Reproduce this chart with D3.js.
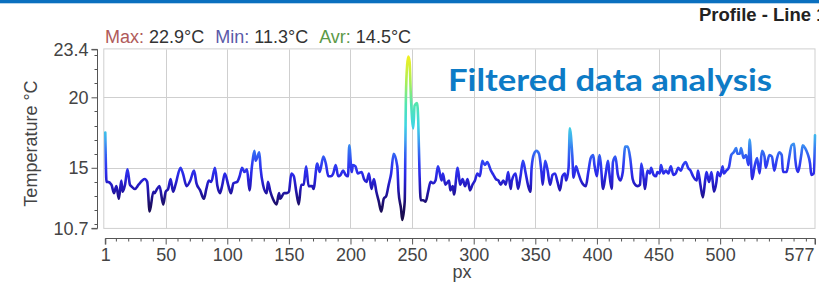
<!DOCTYPE html>
<html><head><meta charset="utf-8">
<script src="https://cdn.jsdelivr.net/npm/d3@7/dist/d3.min.js"></script>
<style>
body{margin:0;background:#fff;}
svg{display:block;font-family:"Liberation Sans",Arial,sans-serif;}
</style>
</head><body>
<svg id="chart" width="819" height="288"></svg>
<script>
// ---- data ----
const pxIndex = [1,2,3,6,8,10,12,14,15,17,19,21,22,25,28,31,33,35,37,40,41,43,45,48,50,52,54,56,58,62,64,67,70,73,75,78,81,83,85,87,90,92,94,96,98,101,103,105,108,110,112,114,116,118,120,122,123,126,127,129,132,133,135,137,140,142,143,146,148,150,152,154,156,158,160,162,164,166,169,170,173,175,178,180,182,184,186,188,190,
192,194,196,198,199,201,202,204,206,209,211,213,215,217,219,221,223,225,227,229,231,233,235,238,239,241,242,244,245,246,247,248,249,251,252,254,255,256,257,259,261,263,265,267,269,271,274,275,277,280,281,283,284,287,289,291,293,295,297,299,301,303,305,307,309,311,314,316,318,320,322,324,326,328,330,331,334,336,338,340,342,344,346,347,349,351,353,355,356,358,360,362,364,366,368,370,372,374,375,377,378,380,381,
383,385,387,389,391,393,395,397,398,400,402,403,405,407,409,410,412,413,415,417,419,421,423,425,427,429,431,433,435,436,438,439,441,443,444,446,448,449,451,452,454,456,458,460,462,464,466,468,470,472,474,476,478,481,482,484,486,488,489,491,493,495,497,498,500,502,503,505,507,509,511,513,514,516,517,519,521,523,524,526,528,530,532,534,536,537,540,542,544,546,548,550,551,554,556,558,560,561,563,566,567,569,571,573,574,576,577];
const temperature = [17.5,14.0,14.0,13.8,13.2,13.7,12.8,14.1,13.3,13.8,14.9,13.8,13.7,13.5,13.8,14.1,14.2,14.0,11.9,13.3,13.2,13.5,13.7,12.4,13.3,13.5,14.2,13.3,13.8,15.0,14.6,13.7,14.1,14.8,13.9,13.4,12.8,13.5,14.1,14.0,15.0,13.7,13.2,13.8,14.6,13.7,13.2,13.9,14.0,14.4,15.0,14.7,14.9,13.4,15.1,16.2,15.5,16.1,15.0,13.8,13.2,14.0,13.3,12.8,12.4,13.2,12.8,13.2,13.2,13.3,14.6,14.4,13.3,12.4,13.8,13.8,15.1,13.7,13.7,13.5,15.3,14.7,15.8,15.3,14.4,14.4,14.6,15.2,14.4,
14.5,14.8,14.5,14.4,16.6,14.7,15.2,15.1,14.6,14.7,14.2,14.0,14.6,13.5,14.2,13.3,12.6,11.9,12.8,13.0,13.8,14.6,16.0,15.1,13.3,12.1,11.3,12.6,20.1,22.3,22.9,22.5,20.1,17.8,19.4,19.6,18.3,14.7,12.7,12.7,12.6,13.3,14.0,13.9,14.1,15.1,14.1,14.6,13.8,14.1,13.4,13.7,13.1,15.0,13.8,14.2,13.7,14.2,13.4,13.8,14.1,14.6,14.4,15.5,15.2,15.4,14.8,14.5,14.2,14.1,13.8,14.1,13.8,14.7,13.5,14.1,14.6,13.5,14.4,15.5,14.7,13.8,13.3,15.0,16.0,16.2,16.0,14.7,13.8,15.5,14.8,13.8,14.5,14.6,14.0,13.4,14.4,14.6,14.1,15.0,17.8,15.9,14.3,
15.1,14.6,14.1,13.8,13.7,14.7,15.7,15.9,15.2,14.4,15.9,15.4,13.5,14.5,15.5,14.7,13.5,15.4,15.8,14.5,14.1,14.7,16.5,16.5,15.7,14.2,13.8,13.7,13.8,15.3,14.2,13.5,14.8,14.6,15.0,14.5,14.4,14.7,14.6,15.2,14.6,14.8,14.6,15.1,14.5,14.6,15.0,14.8,15.2,15.4,15.0,14.8,14.4,14.1,14.8,13.8,12.9,14.2,14.7,14.0,14.7,13.3,14.0,14.7,14.4,15.1,14.6,14.8,15.0,15.9,16.1,16.4,16.0,16.0,16.4,15.7,15.9,15.2,17.0,14.2,15.1,15.7,14.6,16.2,15.8,15.0,15.9,15.8,14.8,15.6,16.1,15.9,14.7,14.7,15.7,16.6,16.7,15.6,14.7,16.0,16.6,16.4,16.0,15.3,14.5,14.6,17.3];
const xMajorTicks = [1,50,100,150,200,250,300,350,400,450,500,577];
const yMajorTicks = [10.7,15,20,23.4];
const statLabels = ["Max:","Min:","Avr:"];
const statValues = ["22.9°C","11.3°C","14.5°C"];
const titleText = "Profile - Line 1";
const overlayText = "Filtered data analysis";
const xTitle = "px";
const yTitle = "Temperature °C";

// ---- layout ----
const svg = d3.select("#chart");
const plot = {left:105.3, right:815, top:49.4, bottom:228.4};
const x = d3.scaleLinear().domain([1,577]).range([plot.left, plot.right]);
const y = d3.scaleLinear().domain([10.7,23.4]).range([plot.bottom, plot.top]);
const data = pxIndex.map((p,i)=>({px:p, t:temperature[i]}));
const axisFont = 18;

// header bar + title
svg.append("rect").attr("x",0).attr("y",0).attr("width",819).attr("height",3.3).attr("fill","#0b70bf");
svg.append("text").attr("x",699).attr("y",21).attr("font-size",18.5).attr("font-weight","bold")
  .attr("fill","#222").text(titleText);

// grid
const grid = svg.append("g").attr("stroke","#cfcfcf").attr("stroke-width",1).attr("fill","none");
grid.append("rect").attr("x",plot.left-1.5).attr("y",plot.top-0.5)
  .attr("width",plot.right-plot.left+1.5).attr("height",plot.bottom-plot.top+0.5);
xMajorTicks.filter(v=>v!==1&&v!==577).forEach(v=>{
  grid.append("line").attr("x1",Math.round(x(v))+0.5).attr("x2",Math.round(x(v))+0.5)
    .attr("y1",plot.top).attr("y2",plot.bottom);
});
[15,20].forEach(v=>{
  grid.append("line").attr("y1",Math.round(y(v))+0.5).attr("y2",Math.round(y(v))+0.5)
    .attr("x1",plot.left-1.5).attr("x2",plot.right);
});

// y axis
const yAxisX = 97;
const yMinor = d3.range(11,24).filter(v=>!yMajorTicks.includes(v));
const yAxis = d3.axisLeft(y).tickValues(yMajorTicks).tickSize(6).tickPadding(3)
  .tickFormat(d=>String(d));
const gy = svg.append("g").attr("transform",`translate(${yAxisX+0.5},0)`).call(yAxis);
gy.selectAll("line, path").attr("stroke","#555");
gy.selectAll("text").attr("font-size",axisFont).attr("fill","#444").attr("font-family","Liberation Sans, Arial, sans-serif");
gy.selectAll(".minor").data(yMinor).enter().append("line").attr("class","minor")
  .attr("x1",-3).attr("x2",0).attr("y1",d=>Math.round(y(d))+0.5).attr("y2",d=>Math.round(y(d))+0.5).attr("stroke","#555");
gy.select(".domain").attr("d",`M-6,${y(23.4)}H0V${y(10.7)}H-6`);

// x axis
const xAxisY = 238;
const xMinor = d3.range(10,580,10).filter(v=>!xMajorTicks.includes(v));
const xAxis = d3.axisBottom(x).tickValues(xMajorTicks).tickSize(6).tickPadding(4).tickFormat(d=>String(d));
const gx = svg.append("g").attr("transform",`translate(0,${xAxisY+0.5})`).call(xAxis);
gx.selectAll("line, path").attr("stroke","#555");
gx.selectAll("text").attr("font-size",axisFont).attr("fill","#444").attr("font-family","Liberation Sans, Arial, sans-serif")
  .attr("text-anchor",d=>d===577?"end":"middle").attr("dx",d=>d===577?"-1":"0");
gx.selectAll(".minor").data(xMinor).enter().append("line").attr("class","minor")
  .attr("y1",0).attr("y2",3).attr("x1",d=>x(d)).attr("x2",d=>x(d)).attr("stroke","#555");
gx.select(".domain").attr("d",`M${x(1)},6V0H${x(577)}V6`);

// axis titles
svg.append("text").attr("x",462).attr("y",278).attr("text-anchor","middle")
  .attr("font-size",axisFont).attr("fill","#444").text(xTitle);
svg.append("text").attr("transform","translate(36.5,143.5) rotate(-90)").attr("text-anchor","middle")
  .attr("font-size",axisFont).attr("fill","#444").text(yTitle);

// stats legend
const statColors = ["#b05a5a","#5a5aa8","#5c9a48"];
const leg = svg.append("text").attr("x",105).attr("y",42.5).attr("font-size",18).attr("fill","#333");
statLabels.forEach((l,i)=>{
  leg.append("tspan").attr("fill",statColors[i]).attr("dx", i===0?0:11).text(l);
  leg.append("tspan").attr("fill","#333").text(" "+statValues[i]);
});

// gradient for line (by temperature)
const gradStops = [[10.7,"#160a38"],[12.3,"#1c0e62"],[13.5,"#2216b4"],[14.5,"#2a28e6"],[15.3,"#2f3ef2"],[16.2,"#3470f2"],[17,"#3fa6f0"],[18,"#3ed6e2"],[19.5,"#52e6b0"],[21,"#a6ee5a"],[22.9,"#f2f020"],[23.4,"#f2f020"]];
const defs = svg.append("defs");
const lg = defs.append("linearGradient").attr("id","tempGrad").attr("gradientUnits","userSpaceOnUse")
  .attr("x1",0).attr("x2",0).attr("y1",y(10.7)).attr("y2",y(23.4));
gradStops.forEach(s=>lg.append("stop").attr("offset",(s[0]-10.7)/(23.4-10.7)).attr("stop-color",s[1]));

const line = d3.line().x(d=>x(d.px)).y(d=>y(d.t)).curve(d3.curveMonotoneX);
svg.append("path").datum(data).attr("d",line).attr("fill","none")
  .attr("stroke","url(#tempGrad)").attr("stroke-width",2.6).attr("stroke-linejoin","round").attr("stroke-linecap","round");

// overlay annotation
svg.append("text").attr("x",448).attr("y",90.5).attr("font-family","Lato, 'Open Sans', sans-serif")
  .attr("font-weight","bold").attr("font-size",31).attr("fill","#0d7bc6")
  .attr("textLength",324).attr("lengthAdjust","spacingAndGlyphs").text(overlayText);
</script>
</body></html>
